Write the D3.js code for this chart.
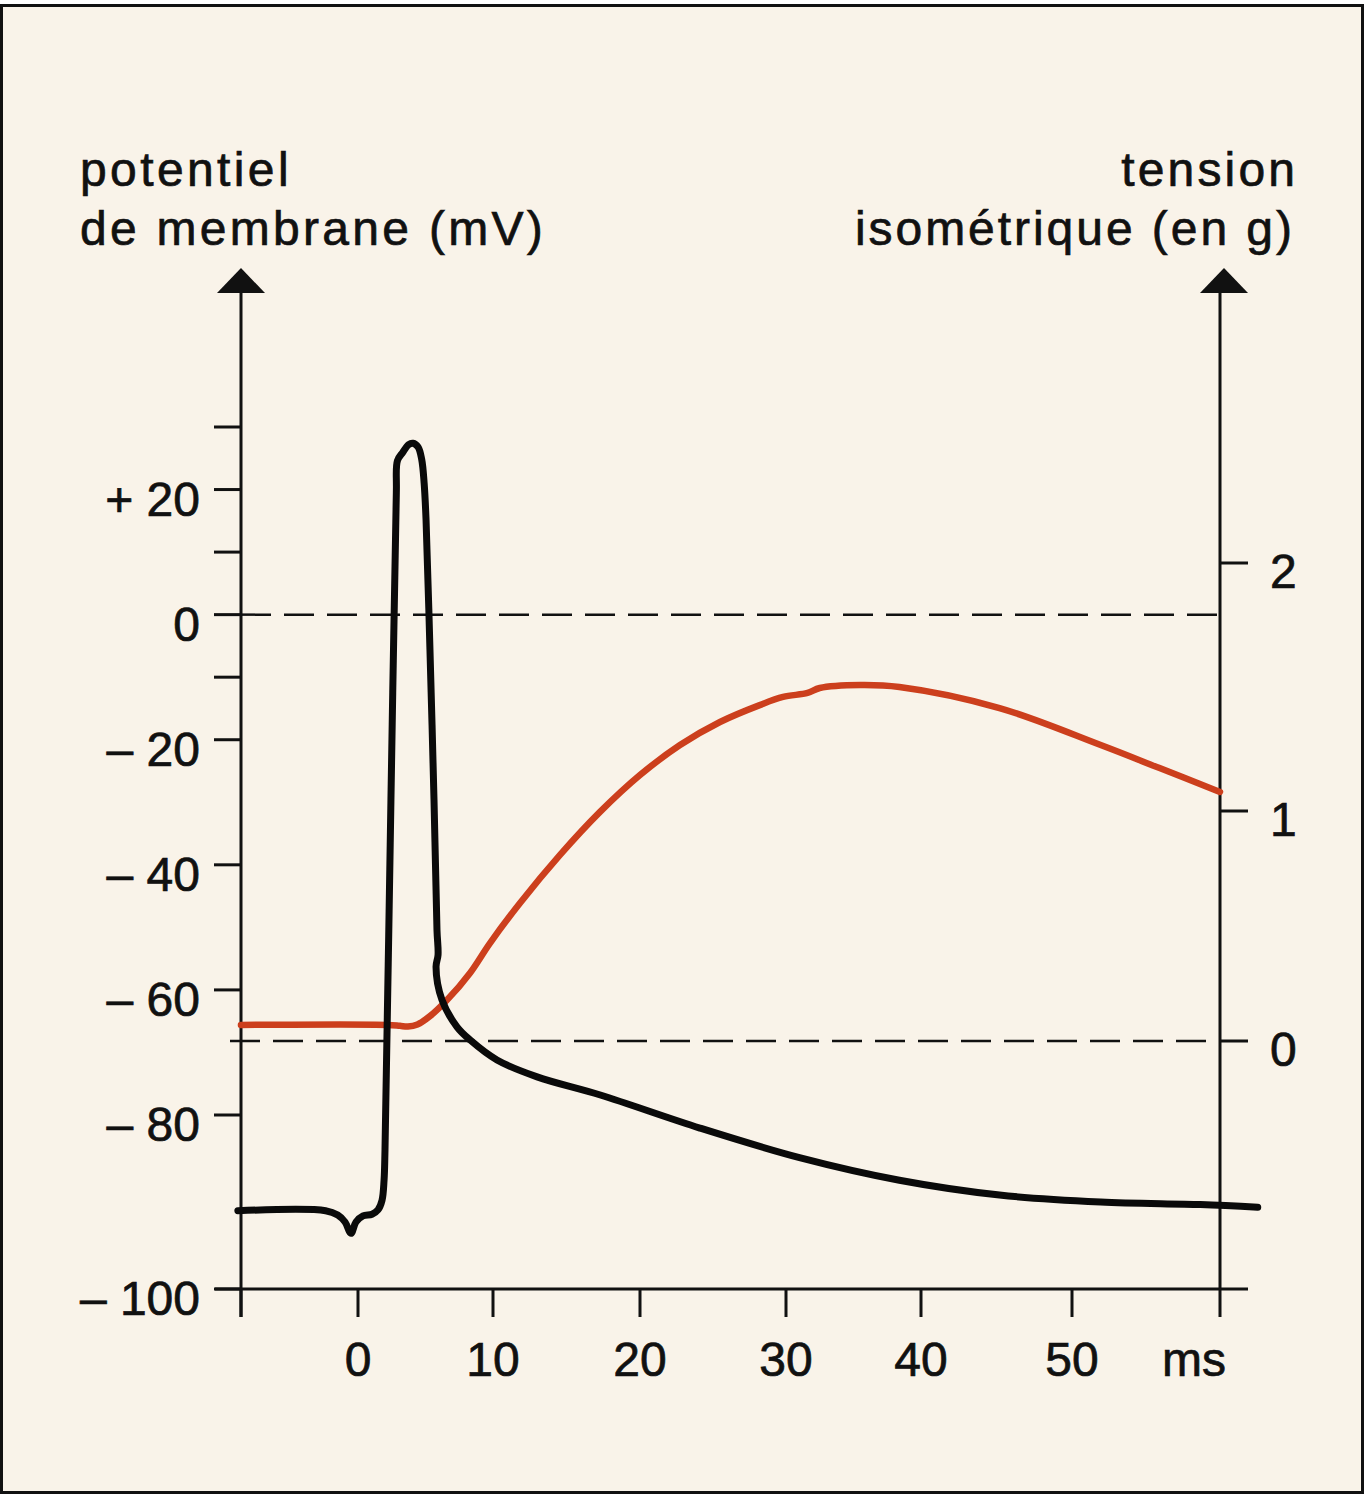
<!DOCTYPE html>
<html>
<head>
<meta charset="utf-8">
<script src="https://cdn.jsdelivr.net/npm/d3@7"></script>
<style>
  html, body { margin: 0; padding: 0; background: #ffffff; }
  svg { display: block; }
  text { font-family: "Liberation Sans", Arial, sans-serif; fill: #111; stroke: #111; stroke-width: 0.7px; }
</style>
</head>
<body>
<svg id="chart" width="1365" height="1500"></svg>
<script>
// ---- Data ----
const xTicks = [0, 10, 20, 30, 40, 50];
const xTickLabels = ["0", "10", "20", "30", "40", "50"];
const xUnit = "ms";

const leftMajorTicks = [20, 0, -20, -40, -60, -80, -100];
const leftTickLabels = ["+ 20", "0", "\u2013 20", "\u2013 40", "\u2013 60", "\u2013 80", "\u2013 100"];
const leftMinorTicks = [30, 10, -10];

const rightTicks = [0, 1, 2];
const rightTickLabels = ["0", "1", "2"];

const leftTitle = ["potentiel", "de membrane (mV)"];
const rightTitle = ["tension", "isométrique (en g)"];

// membrane potential (ms, mV)
const potentialTime = [-8.9, -2.4, -1.5, -0.96, -0.52, -0.15, 0.37, 1.04, 1.48, 1.78, 1.93, 2.0, 2.44, 2.84, 2.92, 3.3, 3.75, 4.07, 4.45, 4.72, 4.9, 5.04, 5.33, 5.63, 5.85, 5.93, 5.78, 6.22, 7.33, 8.3, 10.27, 13.0, 17.3, 24.1, 31.0, 38.4, 45.2, 51.9, 58.5, 62.3];
const potentialValue = [-91.0, -91.0, -91.5, -92.3, -93.6, -92.3, -91.6, -91.4, -90.9, -89.8, -87.5, -84.0, -29.6, 19.5, 24.6, 25.9, 27.2, 27.4, 26.8, 24.8, 21.0, 15.2, -5.6, -29.6, -50.4, -54.4, -56.3, -61.6, -65.9, -68.0, -71.2, -73.9, -76.8, -81.5, -84.9, -87.5, -89.2, -90.0, -90.3, -90.6];

// isometric tension (ms, g)
const tensionTime = [-8.67, 2.2, 3.1, 3.7, 4.4, 5.33, 6.59, 8.3, 9.78, 11.84, 14.56, 17.28, 20.0, 22.74, 25.48, 28.2, 29.8, 31.6, 32.5, 35.5, 38.4, 45.2, 51.9, 55.8, 59.8];
const tensionValue = [0.07, 0.07, 0.066, 0.063, 0.072, 0.108, 0.178, 0.296, 0.426, 0.6, 0.809, 0.996, 1.145, 1.266, 1.359, 1.427, 1.46, 1.476, 1.496, 1.508, 1.5, 1.415, 1.266, 1.173, 1.077];

// ---- Layout ----
const svg = d3.select("#chart");
const axisLeftX = 241, axisRightX = 1220, axisBottomY = 1289;
const BG = "#f9f3e9";
const RED = "#cc3f1d";

svg.append("rect").attr("x", 1.5).attr("y", 5.5).attr("width", 1361).attr("height", 1487)
  .attr("fill", BG).attr("stroke", "#111").attr("stroke-width", 3);

// scales (hand-drawn original: piecewise linear)
const x = d3.scaleLinear().domain([0, 10, 20, 30, 40, 50]).range([358, 493, 640, 786, 921, 1072]);
const yL = d3.scaleLinear().domain([-100, -80, 30]).range([1289, 1115, 427]);
const yR = d3.scaleLinear().domain([0, 1, 2]).range([1041, 811, 563]);

// dashed reference lines
svg.append("line").attr("x1", axisLeftX).attr("x2", axisRightX).attr("y1", yL(0)).attr("y2", yL(0))
  .attr("stroke", "#111").attr("stroke-width", 2.5).attr("stroke-dasharray", "30,13");
svg.append("line").attr("x1", 230).attr("x2", axisRightX).attr("y1", yR(0)).attr("y2", yR(0))
  .attr("stroke", "#111").attr("stroke-width", 2.5).attr("stroke-dasharray", "30,13");

// axes lines
const axG = svg.append("g").attr("stroke", "#111").attr("stroke-width", 3).attr("fill", "none");
axG.append("line").attr("x1", axisLeftX).attr("x2", axisLeftX).attr("y1", 290).attr("y2", 1317);
axG.append("line").attr("x1", axisRightX).attr("x2", axisRightX).attr("y1", 290).attr("y2", 1317);
axG.append("line").attr("x1", 215).attr("x2", 1248).attr("y1", axisBottomY).attr("y2", axisBottomY);

// arrows
[axisLeftX, axisRightX + 4].forEach(cx => {
  svg.append("path").attr("d", `M${cx - 24},293 L${cx},268 L${cx + 24},293 Z`).attr("fill", "#111");
});

// left axis ticks
leftMajorTicks.concat(leftMinorTicks).forEach(v => {
  axG.append("line").attr("x1", 214).attr("x2", axisLeftX).attr("y1", yL(v)).attr("y2", yL(v));
});
leftMajorTicks.forEach((v, i) => {
  svg.append("text").attr("x", 200).attr("y", yL(v) + 26).attr("text-anchor", "end")
    .attr("font-size", 48).text(leftTickLabels[i]);
});

// right axis ticks
rightTicks.forEach((v, i) => {
  axG.append("line").attr("x1", axisRightX).attr("x2", 1248).attr("y1", yR(v)).attr("y2", yR(v));
  svg.append("text").attr("x", 1270).attr("y", yR(v) + 25).attr("text-anchor", "start")
    .attr("font-size", 48).text(rightTickLabels[i]);
});

// bottom axis ticks
axG.append("line").attr("x1", axisLeftX).attr("x2", axisLeftX).attr("y1", axisBottomY).attr("y2", 1317);
xTicks.forEach((v, i) => {
  axG.append("line").attr("x1", x(v)).attr("x2", x(v)).attr("y1", axisBottomY).attr("y2", 1317);
  svg.append("text").attr("x", x(v)).attr("y", 1376).attr("text-anchor", "middle")
    .attr("font-size", 48).text(xTickLabels[i]);
});
svg.append("text").attr("x", 1194).attr("y", 1376).attr("text-anchor", "middle")
  .attr("font-size", 48).text(xUnit);

// titles
function fitText(sel, target) {
  const n = sel.text().length;
  const w = sel.node().getComputedTextLength();
  const ls = (target - w) / n;
  sel.attr("letter-spacing", ls);
  return ls;
}
const TF = 48;
const tl1 = svg.append("text").attr("x", 80).attr("y", 186).attr("font-size", TF).text(leftTitle[0]);
fitText(tl1, 212);
const tl2 = svg.append("text").attr("x", 80).attr("y", 245).attr("font-size", TF).text(leftTitle[1]);
fitText(tl2, 466);
const tr1 = svg.append("text").attr("x", 1295).attr("y", 186).attr("font-size", TF).text(rightTitle[0]);
const ls1 = fitText(tr1, 177);
tr1.attr("text-anchor", "end").attr("x", 1295 + ls1);
const tr2 = svg.append("text").attr("x", 1292).attr("y", 245).attr("font-size", TF).text(rightTitle[1]);
const ls2 = fitText(tr2, 440);
tr2.attr("text-anchor", "end").attr("x", 1292 + ls2);

// curves
const tension = tensionTime.map((t, i) => [t, tensionValue[i]]);
const potential = potentialTime.map((t, i) => [t, potentialValue[i]]);

svg.append("path").datum(tension)
  .attr("d", d3.line().x(d => x(d[0])).y(d => yR(d[1])).curve(d3.curveCatmullRom.alpha(0.5)))
  .attr("fill", "none").attr("stroke", RED).attr("stroke-width", 6.5).attr("stroke-linecap", "round");

svg.append("path").datum(potential)
  .attr("d", d3.line().x(d => x(d[0])).y(d => yL(d[1])).curve(d3.curveCatmullRom.alpha(0.5)))
  .attr("fill", "none").attr("stroke", "#0a0a0a").attr("stroke-width", 7)
  .attr("stroke-linecap", "round").attr("stroke-linejoin", "round");
</script>
</body>
</html>
